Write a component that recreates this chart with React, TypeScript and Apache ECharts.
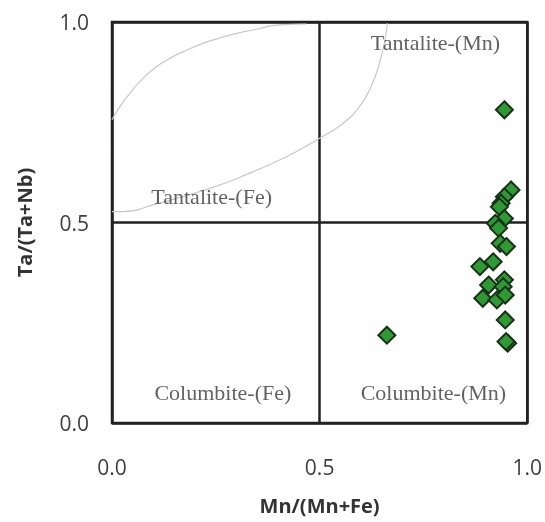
import React, { useEffect, useRef } from "react";
import * as echarts from "echarts";

// Mn/(Mn+Fe), Ta/(Ta+Nb) sample values
const samplePoints: [number, number][] = [
  [0.945, 0.781],
  [0.961, 0.581],
  [0.945, 0.564],
  [0.937, 0.548],
  [0.933, 0.539],
  [0.945, 0.51],
  [0.923, 0.498],
  [0.931, 0.486],
  [0.935, 0.448],
  [0.95, 0.44],
  [0.918, 0.402],
  [0.886, 0.39],
  [0.945, 0.357],
  [0.907, 0.344],
  [0.942, 0.34],
  [0.893, 0.311],
  [0.927, 0.307],
  [0.947, 0.319],
  [0.947, 0.257],
  [0.953, 0.199],
  [0.949, 0.203],
  [0.662, 0.219],
];

// grey boundary curves
const upperCurve: [number, number][] = [
  [0, 0.756], [0.019, 0.789], [0.043, 0.822], [0.075, 0.86], [0.119, 0.897],
  [0.18, 0.93], [0.268, 0.963], [0.348, 0.982], [0.404, 0.993], [0.468, 0.995],
];
const lowerCurve: [number, number][] = [
  [0, 0.527], [0.027, 0.527], [0.099, 0.544], [0.236, 0.585], [0.332, 0.623],
  [0.42, 0.664], [0.484, 0.7], [0.5, 0.71], [0.556, 0.747], [0.596, 0.789],
  [0.624, 0.839], [0.644, 0.897], [0.656, 0.947], [0.663, 0.997],
];

const regionNames = ["Tantalite-(Fe)", "Tantalite-(Mn)", "Columbite-(Fe)", "Columbite-(Mn)"];
const regionAnchors: [number, number][] = [
  [0.24, 0.564],
  [0.779, 0.948],
  [0.267, 0.075],
  [0.774, 0.075],
];

const axisTicks = [0, 0.5, 1];

export default function App() {
  const ref = useRef<HTMLDivElement>(null);
  useEffect(() => {
    if (!ref.current) return;
    const chart = echarts.init(ref.current, null, { renderer: "svg" });
    const tickFmt = (v: number) => (axisTicks.includes(v) ? v.toFixed(1) : "");
    chart.setOption({
      animation: false,
      grid: {
        left: 112,
        right: 17,
        top: 22,
        bottom: 99,
        show: true,
        borderColor: "#222",
        borderWidth: 2.5,
      },
      xAxis: {
        type: "value",
        min: 0,
        max: 1,
        interval: 0.5,
        name: "Mn/(Mn+Fe)",
        nameLocation: "middle",
        nameGap: 72,
        nameTextStyle: { fontFamily: "Open Sans", fontWeight: "bold", fontSize: 20, color: "#333" },
        axisLine: { show: false },
        axisTick: { show: false },
        axisLabel: { formatter: tickFmt, margin: 33, fontFamily: "Open Sans", fontSize: 21, color: "#404040" },
        splitLine: { show: true, lineStyle: { color: "#222", width: 2.5 } },
      },
      yAxis: {
        type: "value",
        min: 0,
        max: 1,
        interval: 0.5,
        name: "Ta/(Ta+Nb)",
        nameLocation: "middle",
        nameGap: 78,
        nameTextStyle: { fontFamily: "Open Sans", fontWeight: "bold", fontSize: 20, color: "#333" },
        axisLine: { show: false },
        axisTick: { show: false },
        axisLabel: { formatter: tickFmt, margin: 23, fontFamily: "Open Sans", fontSize: 21, color: "#404040" },
        splitLine: { show: true, lineStyle: { color: "#222", width: 2.5 } },
      },
      series: [
        {
          type: "line",
          data: upperCurve,
          smooth: true,
          showSymbol: false,
          lineStyle: { color: "#c8c8c8", width: 1.2 },
          z: 1,
        },
        {
          type: "line",
          data: lowerCurve,
          smooth: true,
          showSymbol: false,
          lineStyle: { color: "#c8c8c8", width: 1.2 },
          z: 1,
        },
        {
          type: "scatter",
          data: regionAnchors.map((p, i) => ({ value: p, name: regionNames[i] })),
          symbolSize: 0,
          silent: true,
          label: {
            show: true,
            position: "inside",
            formatter: (p: any) => p.name,
            fontFamily: "Liberation Serif",
            fontSize: 22,
            color: "#3a3a3a",
          },
          z: 2,
        },
        {
          type: "scatter",
          data: samplePoints,
          symbol: "diamond",
          symbolSize: 17,
          itemStyle: { color: "#2e9a33", borderColor: "#1a301a", borderWidth: 2, opacity: 1 },
          z: 3,
        },
      ],
    });
    return () => chart.dispose();
  }, []);
  return (
    <div
      ref={ref}
      style={{ position: "fixed", left: 0, top: 0, width: 545, height: 522 }}
    />
  );
}
